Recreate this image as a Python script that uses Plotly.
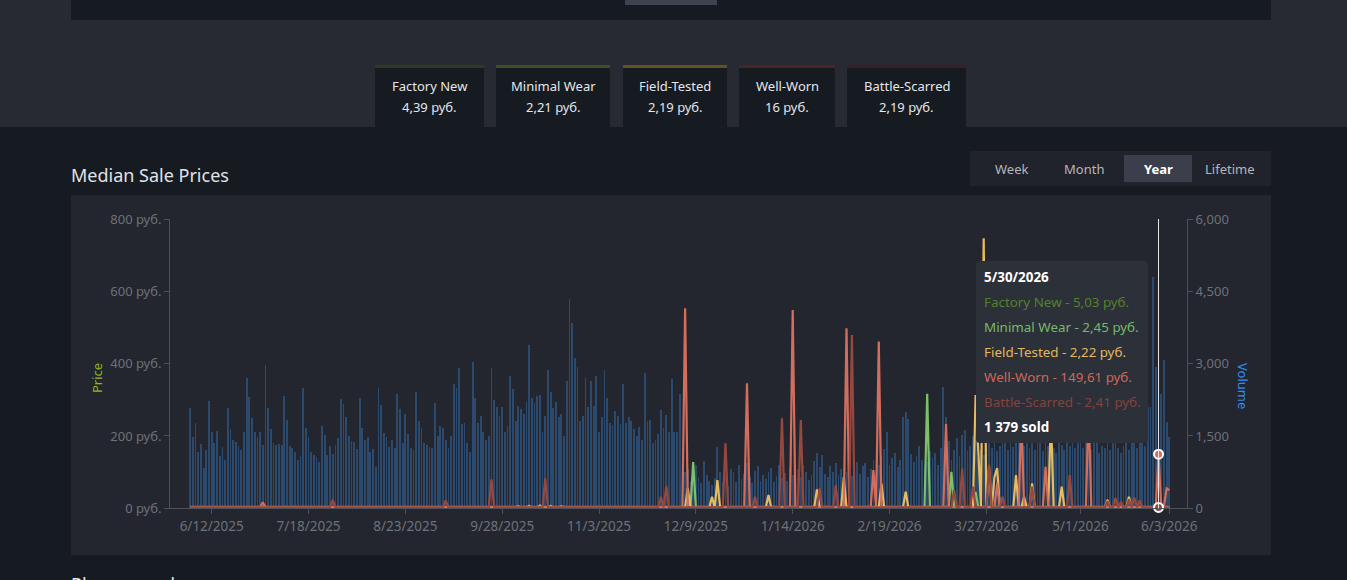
import plotly.graph_objects as go
import pandas as pd

W, H = 1347, 580

# ---------------- data ----------------
start_date = "2025-06-04"

# daily sales volume (6/4/2025 .. 6/3/2026)
volume = [
    2080, 1486, 1770, 1175, 1334, 836, 1210, 2226, 1590, 1361,
    1610, 1092, 1278, 1002, 2088, 1645, 1417, 1382, 1293, 1210,
    1590, 2697, 2303, 1867, 1577, 1486, 1590, 1313, 2973, 2075,
    1645, 1361, 1313, 1334, 1313, 2330, 1832, 1299, 1245, 1175,
    1002, 1092, 2503, 1673, 1486, 1175, 1106, 1071, 967, 1714,
    1521, 1106, 1293, 1120, 1313, 1452, 2268, 2164, 1901, 1507,
    1403, 1382, 1230, 2295, 1660, 1417, 1486, 1162, 1230, 863,
    2503, 2143, 1556, 1486, 1278, 1417, 1245, 2372, 2060, 1361,
    1957, 1542, 1245, 1210, 2407, 1818, 1660, 1349, 1313, 1266,
    1245, 2179, 1507, 1714, 1660, 1417, 1245, 1494, 2573, 2490,
    2905,
    1749, 1777, 1361, 1175, 3042, 2295, 1764, 1916, 1577, 1417,
    1507, 2905, 2247, 2109, 1916, 2109, 1590, 1708, 2745, 2476,
    1812, 2130, 2054, 1951, 2200, 3389, 2283, 2179, 2331, 2352,
    1577, 1922, 2870, 2407, 2075, 2213, 1902, 1957, 1507, 2642,
    4343, 3839, 3126, 2939, 1812, 1922, 2711, 2109, 2649, 2130,
    2745, 1577, 1902, 2870, 2283, 1764, 1729, 2020, 1916, 1749,
    2573, 1764, 1902, 1812, 1639, 1507, 1694, 1417, 2801, 1812,
    1833, 1349, 1417, 1535, 2040, 1673, 1936, 1577, 2676, 1577,
    1577, 2365,
    600, 750, 820, 560, 700, 900, 640, 520, 980, 700,
    560, 480, 620, 1280, 750, 540, 690, 470,
    820, 760, 540, 900, 600, 720, 940, 650, 520, 780,
    880, 560, 700, 610, 760, 830, 540, 680, 900, 620, 740, 560, 860,
    700, 560, 820, 640, 900, 760, 580, 700, 980, 1140,
    860, 1100, 720, 640, 880, 760, 940, 700, 820, 600,
    760, 1000, 680, 920, 960, 720, 880, 940, 640, 820,
    1000, 760, 900, 1080, 1220, 1590,
    900, 1040, 1150, 860, 1000, 1900, 2005, 1860, 1120, 960,
    1080, 1300, 1000, 880, 960, 1180, 1050, 1150, 900, 1260,
    2524, 1890, 1400, 1000, 1200, 1450, 1080, 1510, 1620, 1180,
    1300, 1500, 1420, 1050, 1200, 1100,
    1350, 1500, 1250, 1420, 1180, 1300, 1650, 1400, 1200, 1350,
    1280, 1600, 1450, 1150, 1300, 1500, 1250, 1380, 1200, 1550,
    1350, 1180, 1420, 1300, 1500, 1250, 1150, 1400, 1320, 1200,
    1450, 1300, 1500, 1250, 1350,
    1400, 1250, 1500, 1300, 1200, 1350, 1450, 1150, 1300, 1250,
    1400, 1200, 1350, 1500, 1250, 1150, 1300, 1450, 1200, 1350,
    1900, 1250, 1400, 1950, 1300, 2100, 2109, 4806, 2939, 1379,
    2380, 3077, 1800, 1487,
]

# median prices: usual level plus the days that differ from it (day index from start_date)
fn_level = 4.8
fn_days = [360]
fn_vals = [5.03]

mw_level = 2.5
mw_days = [122, 126, 130, 134, 138, 187, 274, 283, 292, 360]
mw_vals = [6, 7, 8, 7, 6, 128, 317, 101, 45, 2.45]

ft_level = 2.2
ft_days = [185, 194, 196, 215, 233, 243, 257, 266, 292, 293, 295, 297, 299, 300,
           307, 310, 313, 320, 324, 341, 349, 360]
ft_vals = [56, 32, 78, 37, 52, 86, 69, 46, 313, 161, 747, 115, 87, 111,
           92, 32, 69, 260, 60, 23, 32, 2.22]

ww_level = 3.0
ww_days = [27, 184, 207, 224, 244, 254, 256, 281, 300, 309, 318, 334, 360, 363, 364]
ww_vals = [17, 553, 346, 548, 498, 106, 461, 233, 70, 260, 115, 280, 149.61, 55, 50]

bs_level = 2.4
bs_days = [53, 95, 112, 132, 175, 177, 199, 210, 220, 227, 234, 240, 246, 284, 287,
           291, 297, 302, 313, 327, 341, 344, 346, 349, 351, 353, 360]
bs_vals = [23, 22, 80, 83, 32, 62, 180, 32, 249, 244, 55, 64, 479, 51, 110,
           60, 120, 32, 60, 92, 20, 28, 18, 25, 30, 22, 2.41]

hover_day = 360

tick_dates = ["2025-06-12", "2025-07-18", "2025-08-23", "2025-09-28", "2025-11-03",
              "2025-12-09", "2026-01-14", "2026-02-19", "2026-03-27", "2026-05-01", "2026-06-03"]
tick_labels = ["6/12/2025", "7/18/2025", "8/23/2025", "9/28/2025", "11/3/2025",
               "12/9/2025", "1/14/2026", "2/19/2026", "3/27/2026", "5/1/2026", "6/3/2026"]
price_ticks = [0, 200, 400, 600, 800]
price_tick_labels = ["0 руб.", "200 руб.", "400 руб.", "600 руб.", "800 руб."]
volume_ticks = [0, 1500, 3000, 4500, 6000]
volume_tick_labels = ["0", "1,500", "3,000", "4,500", "6,000"]

grades = ["Factory New", "Minimal Wear", "Field-Tested", "Well-Worn", "Battle-Scarred"]
tab_prices = ["4,39 руб.", "2,21 руб.", "2,19 руб.", "16 руб.", "2,19 руб."]
range_buttons = ["Week", "Month", "Year", "Lifetime"]

# ---------------- styling ----------------
FONT = "Noto Sans"
line_colors = ["#4f7a26", "#7cc06a", "#e6bc5e", "#d46e5c", "#94483f"]
tip_colors = ["#55802c", "#79b868", "#e3b75c", "#cf675a", "#84423d"]
tab_border = ["#2e3b1f", "#3d5028", "#62521f", "#4a2622", "#3e1f1f"]
DARK = "#161a21"
GREY = "#272a33"
PANEL = "#23262e"
AXIS = "#4c5059"
TICKTXT = "#6d7179"


def px(x):
    return x / W


def py(y):
    return 1 - y / H


def build(level, days, vals):
    s = [level] * len(volume)
    for d, v in zip(days, vals):
        s[d] = v
    return s


dates = pd.date_range(start_date, periods=len(volume), freq="D")
series = [
    build(fn_level, fn_days, fn_vals),
    build(mw_level, mw_days, mw_vals),
    build(ft_level, ft_days, ft_vals),
    build(ww_level, ww_days, ww_vals),
    build(bs_level, bs_days, bs_vals),
]

fig = go.Figure()

# volume bars (primary y, drawn beneath)
fig.add_trace(go.Bar(
    x=dates, y=volume, yaxis="y", width=0.3 * 86400000,
    marker=dict(color="#2c4a6e", line=dict(width=0)), hoverinfo="skip",
))

# price lines (secondary y, drawn on top)
for name, s, c in zip(grades, series, line_colors):
    fig.add_trace(go.Scatter(
        x=dates, y=s, yaxis="y2", mode="lines", name=name,
        line=dict(color=c, width=2.2), hoverinfo="skip",
    ))

hd = dates[hover_day]
fig.add_trace(go.Scatter(
    x=[hd, hd], y=[series[3][hover_day], series[4][hover_day]], yaxis="y2",
    mode="markers", cliponaxis=False, hoverinfo="skip",
    marker=dict(size=9, color=[line_colors[3], line_colors[4]], line=dict(color="white", width=2)),
))

shapes = []


def rect(x0, y0, x1, y1, color, layer="below"):
    shapes.append(dict(type="rect", xref="paper", yref="paper",
                       x0=px(x0), x1=px(x1), y0=py(y1), y1=py(y0),
                       fillcolor=color, line=dict(width=0), layer=layer))


def rounded(x0, y0, x1, y1, r, color, layer="above"):
    pts = [("M", (x0 + r, y0)), ("L", (x1 - r, y0)), ("Q", (x1, y0), (x1, y0 + r)),
           ("L", (x1, y1 - r)), ("Q", (x1, y1), (x1 - r, y1)), ("L", (x0 + r, y1)),
           ("Q", (x0, y1), (x0, y1 - r)), ("L", (x0, y0 + r)), ("Q", (x0, y0), (x0 + r, y0))]
    path = ""
    for p in pts:
        path += p[0] + " " + " ".join(f"{px(a):.5f},{py(b):.5f}" for a, b in p[1:]) + " "
    path += "Z"
    shapes.append(dict(type="path", xref="paper", yref="paper", path=path,
                       fillcolor=color, line=dict(width=0), layer=layer))


# page background blocks
rect(0, 0, W, 127, GREY)
rect(71, 0, 1271, 20, DARK)
rect(625, 0, 717, 5, "#3d4350")
tab_x = [(375, 484), (496, 610), (623, 727), (739, 835), (847, 966)]
for (a, b), c in zip(tab_x, tab_border):
    rect(a, 65, b, 127, DARK)
    rect(a, 65, b, 68, c)
rect(970, 151, 1271, 186, "#20232b")
rect(1124, 155, 1192, 182, "#3a3f4b")
rect(71, 195, 1271, 555, PANEL)

# hover line
shapes.append(dict(type="line", xref="x", yref="paper", x0=hd, x1=hd,
                   y0=py(508.3), y1=py(219), line=dict(color="#e8e8e8", width=1), layer="above"))
# tooltip box
rounded(976, 261, 1148, 443, 4, "#2c3039")

annotations = []


def text(x, y, t, size=13, color="#dfe3e6", anchor="center", angle=0):
    annotations.append(dict(xref="paper", yref="paper", x=px(x), y=py(y), text=t,
                            showarrow=False, xanchor=anchor, yanchor="middle",
                            textangle=angle, font=dict(family=FONT, size=size, color=color)))


for (a, b), g, p in zip(tab_x, grades, tab_prices):
    text((a + b) / 2, 86, g, 13, "#e4e6e9")
    text((a + b) / 2, 107, p, 13, "#e4e6e9")

text(69, 175, "Median Sale Prices", 18, "#e0e3e6", "left")
for bx, lab in zip([1011, 1084, 1158, 1230], range_buttons):
    if lab == "Year":
        text(bx, 169, "<b>" + lab + "</b>", 13, "#ffffff")
    else:
        text(bx, 169, lab, 13, "#b3b7be")

text(97, 378, "Price", 13, "#8fb326", angle=-90)
text(1243, 386, "Volume", 13, "#2e8ef2", angle=90)
# heading of the next page section, cut by the bottom edge as in the reference
annotations.append(dict(xref="paper", yref="paper", x=px(69), y=py(570), text="Place an order:",
                        showarrow=False, xanchor="left", yanchor="top",
                        font=dict(family=FONT, size=18, color="#e8eaec")))


def rub(v):
    return f"{v:.2f}".replace(".", ",") + " руб."


TIP = 13.4
tip_y = [277, 302, 327, 352, 377, 402, 427]
text(982, tip_y[0], f"<b>{hd.month}/{hd.day}/{hd.year}</b>", TIP, "#ffffff", "left")
for i, (g, s) in enumerate(zip(grades, series)):
    text(982, tip_y[i + 1], f"{g} - {rub(s[hover_day])}", TIP, tip_colors[i], "left")
text(982, tip_y[6], "<b>" + f"{volume[hover_day]:,}".replace(",", " ") + " sold</b>", TIP, "#ffffff", "left")

fig.update_layout(
    autosize=True,
    margin=dict(l=0, r=0, t=0, b=0, autoexpand=False),
    paper_bgcolor=DARK, plot_bgcolor="rgba(0,0,0,0)",
    showlegend=False, bargap=0,
    font=dict(family=FONT, size=13, color=TICKTXT),
    shapes=shapes, annotations=annotations,
    xaxis=dict(
        domain=[px(170), px(1187)],
        range=["2025-05-27 12:00", "2026-06-09 14:00"],
        type="date", tickvals=tick_dates, ticktext=tick_labels,
        ticks="outside", ticklen=5, tickcolor=AXIS,
        showline=True, linecolor=AXIS, linewidth=1,
        showgrid=False, zeroline=False,
        tickfont=dict(family=FONT, size=13.5, color=TICKTXT),
    ),
    yaxis=dict(
        domain=[py(508.3), py(219)], side="right", anchor="x",
        range=[0, 6000], tickvals=volume_ticks, ticktext=volume_tick_labels,
        ticks="outside", ticklen=5, tickcolor=AXIS,
        showline=True, linecolor=AXIS, linewidth=1,
        showgrid=False, zeroline=False,
        tickfont=dict(family=FONT, size=13, color=TICKTXT),
    ),
    yaxis2=dict(
        overlaying="y", side="left", anchor="x",
        range=[0, 800], tickvals=price_ticks, ticktext=price_tick_labels,
        ticks="outside", ticklen=5, tickcolor=AXIS,
        showline=True, linecolor=AXIS, linewidth=1,
        showgrid=False, zeroline=False,
        tickfont=dict(family=FONT, size=13, color=TICKTXT),
    ),
)

# the graph div is pinned to the window's top-left corner at exactly 1347x580
fig.write_html(
    "out.html",
    config={"displayModeBar": False},
    default_width=f"{W}px",
    default_height=f"{H}px; position:fixed; left:0; top:0; margin:0",
    post_script="document.body.style.margin='0';document.body.style.background='#161a21';",
)
